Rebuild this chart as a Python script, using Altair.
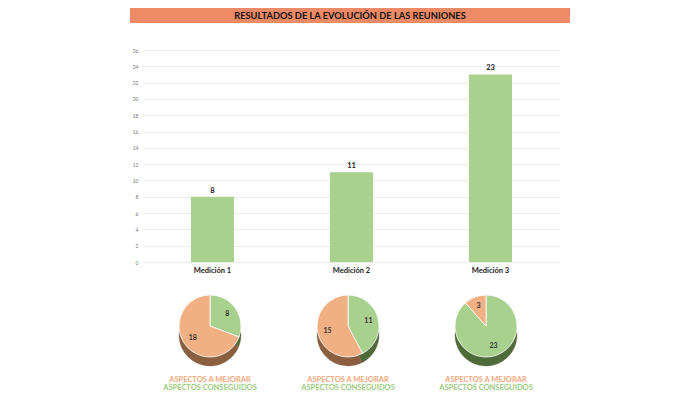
import altair as alt
import pandas as pd

# ---- data ----
categories = ["Medición 1", "Medición 2", "Medición 3"]
conseguidos = [8, 11, 23]
a_mejorar = [18, 15, 3]
aspect_labels = ["ASPECTOS A MEJORAR", "ASPECTOS CONSEGUIDOS"]
title_text = "RESULTADOS DE LA EVOLUCIÓN DE LAS REUNIONES"
y_ticks = list(range(0, 27, 2))

FONT = "Lato"
GREEN = "#A9D18E"
ORANGE = "#F0B084"
DARK_GREEN = "#4E6B3A"
BROWN = "#8A5F3F"
SALMON = "#EF8A66"

W, H = 417, 212

bar_df = pd.DataFrame({"cat": categories, "value": conseguidos})

pie_rows = []
for c, g, o in zip(categories, conseguidos, a_mejorar):
    pie_rows.append({"cat": c, "aspect": aspect_labels[1], "value": g, "ord": 0})
    pie_rows.append({"cat": c, "aspect": aspect_labels[0], "value": o, "ord": 1})
pie_df = pd.DataFrame(pie_rows)

base = alt.Chart(bar_df)

x_enc = alt.X("cat:N", sort=categories, title=None,
              scale=alt.Scale(paddingInner=0, paddingOuter=0),
              axis=alt.Axis(labelAngle=0, labelFont=FONT, labelFontWeight="bold",
                            labelFontSize=7.5, labelColor="#222", ticks=False,
                            domain=False, labelPadding=4))
y_enc = alt.Y("value:Q", title=None, scale=alt.Scale(domain=[0, 26], nice=False),
              axis=alt.Axis(values=y_ticks, labelFont=FONT, labelFontSize=5,
                            labelColor="#777", ticks=False, domain=False,
                            labelOverlap=False,
                            gridColor="#E6E6E6", gridWidth=0.8, labelPadding=5))

bars = base.mark_bar(color=GREEN, size=43).encode(x=x_enc, y=y_enc)

bar_labels = base.mark_text(font=FONT, fontWeight="bold", fontSize=7.5,
                            color="#222", dy=-6).encode(
    x=x_enc, y=y_enc, text=alt.Text("value:Q"),
)

banner = base.mark_rect(color=SALMON).encode(
    x=alt.value(-13), x2=alt.value(427), y=alt.value(-42), y2=alt.value(-27)
).transform_filter(alt.datum.cat == categories[0])

banner_text = base.mark_text(font=FONT, fontWeight="bold", fontSize=9.3,
                             color="#111", baseline="middle").encode(
    x=alt.value(207), y=alt.value(-34.5), text=alt.value(title_text)
).transform_filter(alt.datum.cat == categories[0])

color_scale = alt.Scale(domain=aspect_labels, range=[ORANGE, GREEN])
side_scale = alt.Scale(domain=aspect_labels, range=[BROWN, DARK_GREEN])

pie_cx = [67, 205, 343]
pie_cy = 276
R = 31
DEPTH = 9

layers = [bars, bar_labels, banner, banner_text]
for i, c in enumerate(categories):
    pb = alt.Chart(pie_df).transform_filter(alt.datum.cat == c)
    side = pb.mark_arc(radius=R, stroke="#6b4a33", strokeWidth=0.3).encode(
        x=alt.value(pie_cx[i]), y=alt.value(pie_cy + DEPTH),
        theta=alt.Theta("value:Q", stack=True),
        color=alt.Color("aspect:N", scale=side_scale, legend=None),
        order=alt.Order("ord:Q"),
    )
    top = pb.mark_arc(radius=R, stroke="white", strokeWidth=0.8).encode(
        x=alt.value(pie_cx[i]), y=alt.value(pie_cy),
        theta=alt.Theta("value:Q", stack=True),
        color=alt.Color("aspect:N", scale=color_scale, legend=None),
        order=alt.Order("ord:Q"),
    )
    txt = pb.mark_text(radius=21, font=FONT, fontWeight="bold", fontSize=7,
                       color="#333").encode(
        x=alt.value(pie_cx[i]), y=alt.value(pie_cy),
        theta=alt.Theta("value:Q", stack=True),
        text=alt.Text("value:Q"),
        order=alt.Order("ord:Q"),
    )
    leg1 = base.mark_text(font=FONT, fontWeight="bold", fontSize=7.5,
                          color="#F2A77A").encode(
        x=alt.value(pie_cx[i]), y=alt.value(330), text=alt.value(aspect_labels[0])
    ).transform_filter(alt.datum.cat == categories[0])
    leg2 = base.mark_text(font=FONT, fontWeight="bold", fontSize=7.5,
                          color="#9CCB7E").encode(
        x=alt.value(pie_cx[i]), y=alt.value(338), text=alt.value(aspect_labels[1])
    ).transform_filter(alt.datum.cat == categories[0])
    layers += [side, top, txt, leg1, leg2]

chart = alt.layer(*layers).resolve_scale(color="independent").properties(
    width=W, height=H,
    autosize=alt.AutoSizeParams(type="none"),
    padding={"left": 135, "top": 42, "right": 132, "bottom": 134},
).configure_view(stroke=None)

chart.save("out.html", embed_options={"renderer": "svg", "actions": False})
